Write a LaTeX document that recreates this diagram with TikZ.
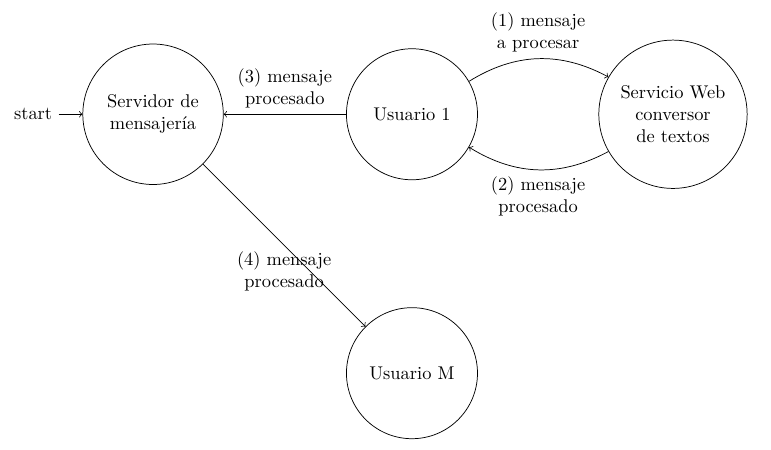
\documentclass[tikz,border=0pt]{standalone}
\usepackage{tikz}
\usetikzlibrary{automata,positioning}
\begin{document}
\begin{tikzpicture}[
  node distance=4.94cm, on grid,
  state/.style={circle, draw, align=center, minimum size=2.5cm, inner sep=2pt},
  lbl/.style={align=center},
  >=to
]
\useasboundingbox (-2.92,2.18) rectangle (11.79,-6.39);
\node[state, minimum size=2.68cm, initial, initial text=start] (srv) {Servidor de\\mensajería};
\node[state, right=of srv] (usr1) {Usuario 1};
\node[state, minimum size=2.83cm, right=4.98cm of usr1] (ws) {Servicio Web\\conversor\\de textos};
\node[state, below=of usr1] (usrm) {Usuario M};
\path[->]
  (usr1) edge[bend left] node[lbl, above] {(1) mensaje\\a procesar} (ws)
  (ws) edge[bend left] node[lbl, below] {(2) mensaje\\procesado} (usr1)
  (usr1) edge node[lbl, above] {(3) mensaje\\procesado} (srv)
  (srv) edge node[lbl, below] {(4) mensaje\\procesado} (usrm);
\end{tikzpicture}
\end{document}
